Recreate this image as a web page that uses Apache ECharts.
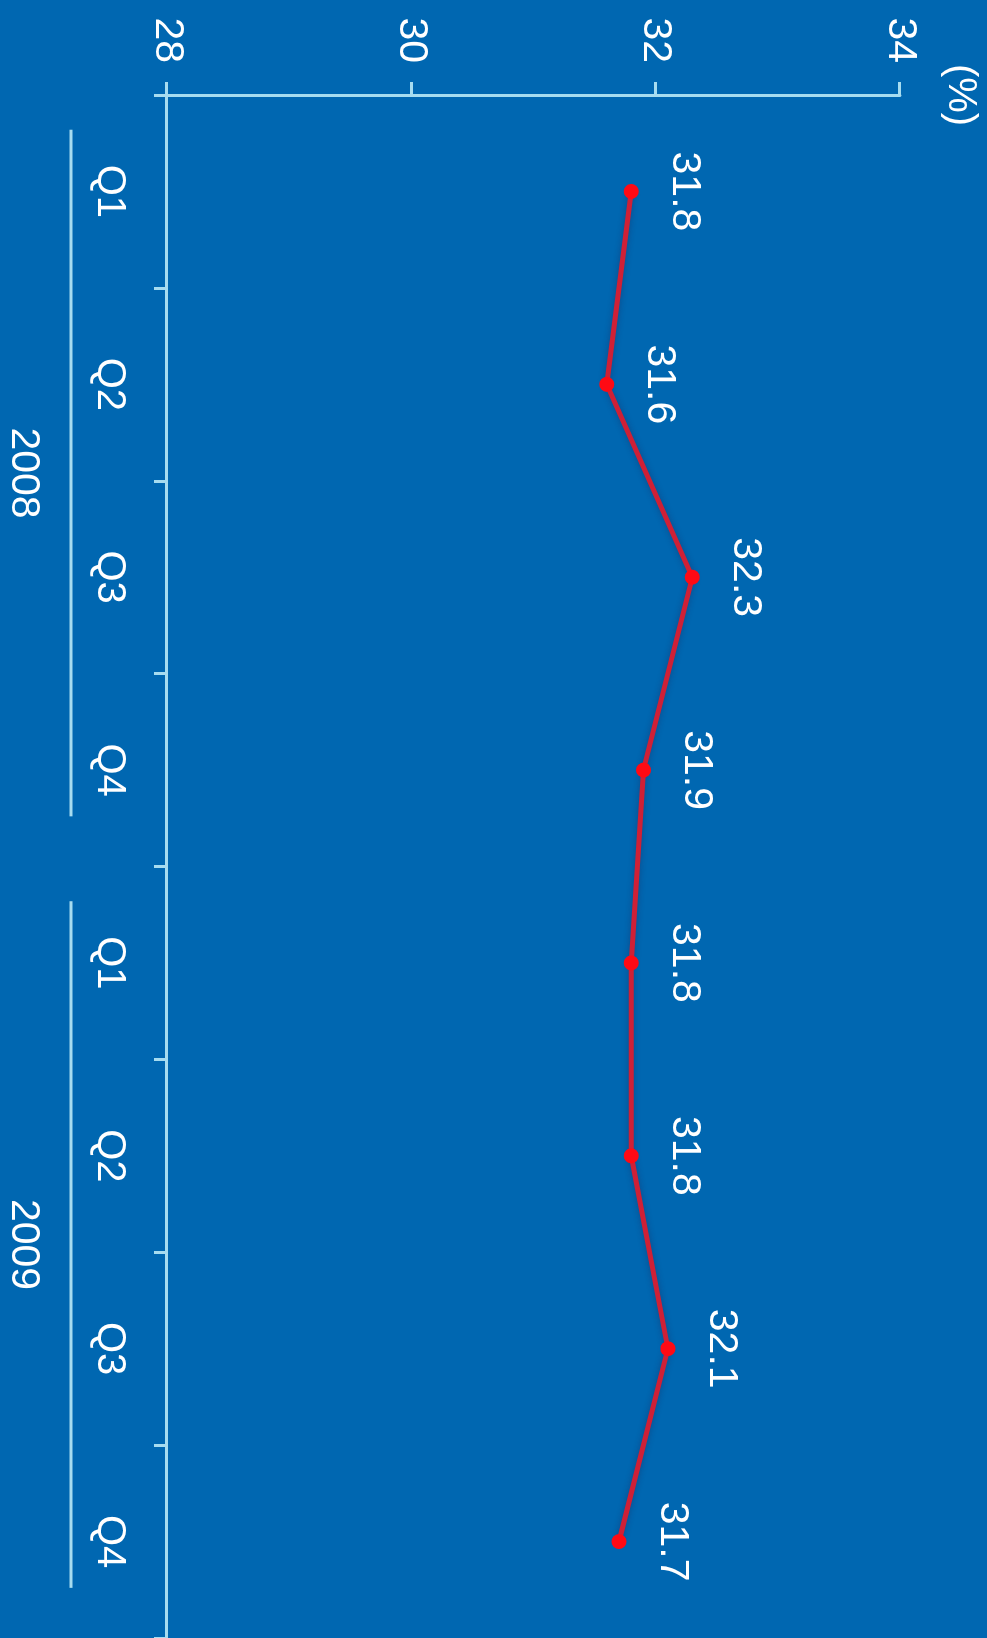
<!DOCTYPE html>
<html>
<head>
<meta charset="utf-8">
<script src="https://cdn.jsdelivr.net/npm/echarts@6/dist/echarts.min.js"></script>
<style>
  html, body { margin: 0; padding: 0; width: 987px; height: 1638px; overflow: hidden; background: #0067b1; }
  /* the chart is laid out landscape and turned a quarter turn clockwise */
  #chart { position: absolute; left: 0; top: 0; width: 1638px; height: 987px;
           transform-origin: 0 0; transform: translate(987px, 0) rotate(90deg); }
</style>
</head>
<body>
<div id="chart"></div>
<script>
// quarterly share, percent
const quarters = ['Q1', 'Q2', 'Q3', 'Q4', 'Q1', 'Q2', 'Q3', 'Q4'];
const years = ['2008', '2009'];
const quartersPerYear = 4;
const shareValues = [31.8, 31.6, 32.3, 31.9, 31.8, 31.8, 32.1, 31.7];
const valueMin = 28;
const valueMax = 34;
const valueStep = 2;

const FONT = '"Liberation Sans", Arial, Helvetica, sans-serif';
const AXIS_COLOR = '#a6dcf0';
const TEXT_COLOR = '#ffffff';

const chart = echarts.init(document.getElementById('chart'), null, { renderer: 'canvas' });

chart.setOption({
  backgroundColor: '#0067b1',
  animation: false,
  grid: { left: 95, top: 87, width: 1548, height: 733, containLabel: false },
  xAxis: {
    type: 'category',
    data: quarters,
    boundaryGap: true,
    axisLine: { show: true, lineStyle: { color: AXIS_COLOR, width: 3 } },
    axisTick: { show: true, length: 13, interval: 0, lineStyle: { color: AXIS_COLOR, width: 3 } },
    axisLabel: { interval: 0, margin: 38, color: TEXT_COLOR, fontSize: 40, fontFamily: FONT },
    splitLine: { show: false }
  },
  yAxis: {
    type: 'value',
    min: valueMin,
    max: valueMax,
    interval: valueStep,
    name: '(%)',
    nameLocation: 'end',
    nameGap: 40,
    nameTextStyle: { color: TEXT_COLOR, fontSize: 40, fontFamily: FONT, align: 'center' },
    axisLine: { show: true, lineStyle: { color: AXIS_COLOR, width: 3 } },
    axisTick: { show: true, length: 13, lineStyle: { color: AXIS_COLOR, width: 3 } },
    axisLabel: { margin: 32, color: TEXT_COLOR, fontSize: 41, fontFamily: FONT },
    splitLine: { show: false }
  },
  series: [{
    type: 'line',
    data: shareValues,
    symbol: 'circle',
    symbolSize: 15,
    lineStyle: { color: '#cf2036', width: 5, shadowColor: 'rgba(40,20,60,0.35)', shadowBlur: 6 },
    itemStyle: { color: '#ff0a14' },
    label: {
      show: true, position: 'top', distance: 25,
      color: TEXT_COLOR, fontSize: 41, fontFamily: FONT,
      formatter: p => p.value.toFixed(1)
    },
    z: 3
  }]
});

// year brackets under the quarter labels
function drawYears() {
  const p0 = chart.convertToPixel({ xAxisIndex: 0 }, 0);
  const band = chart.convertToPixel({ xAxisIndex: 0 }, 1) - p0;
  const lineY = 916;
  const textY = 964;
  const graphics = [];
  years.forEach((yr, gi) => {
    const first = gi * quartersPerYear;
    const last = first + quartersPerYear - 1;
    const start = chart.convertToPixel({ xAxisIndex: 0 }, first) - band / 2 + band * 0.18;
    const end = chart.convertToPixel({ xAxisIndex: 0 }, last) + band / 2 - band * 0.26;
    graphics.push({
      type: 'line',
      shape: { x1: start, y1: lineY, x2: end, y2: lineY },
      style: { stroke: AXIS_COLOR, lineWidth: 3 }
    });
    graphics.push({
      type: 'text',
      x: (start + end) / 2, y: textY,
      style: { text: yr, fill: TEXT_COLOR, fontSize: 41, fontFamily: FONT, align: 'center', verticalAlign: 'middle' }
    });
  });
  chart.setOption({ graphic: graphics });
}
drawYears();
</script>
</body>
</html>
